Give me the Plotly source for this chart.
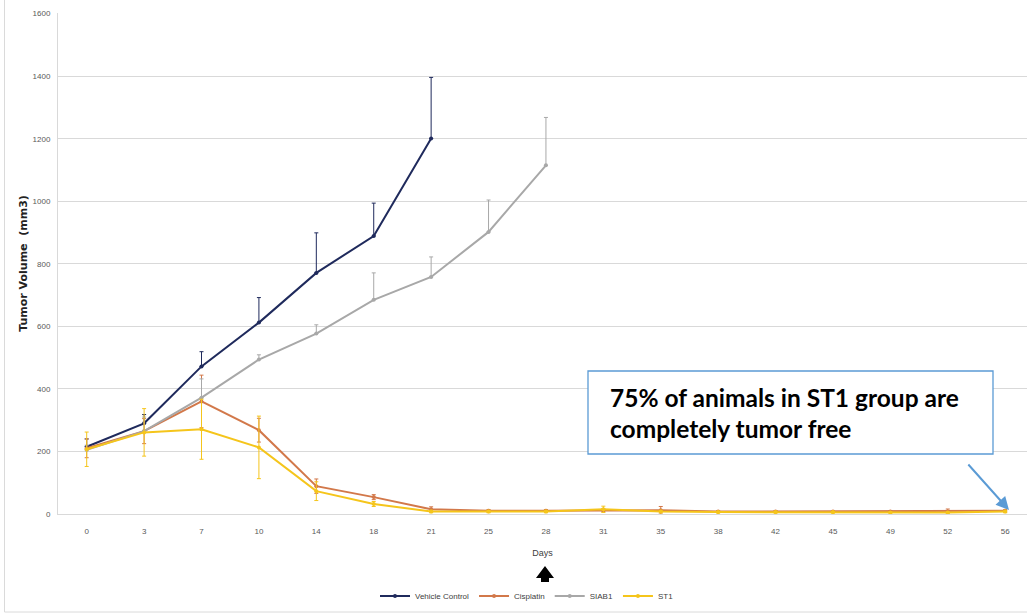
import plotly.graph_objects as go

days = ["0", "3", "7", "10", "14", "18", "21", "25", "28", "31", "35", "38", "42", "45", "49", "52", "56"]

vehicle = [215, 290, 472, 612, 771, 889, 1201]
vehicle_err = [25, 28, 47, 80, 128, 105, 195]

siab1 = [205, 265, 372, 494, 577, 685, 758, 902, 1115]
siab1_err = [15, 45, 60, 15, 28, 86, 64, 102, 153]

cisplatin = [210, 265, 360, 268, 89, 54, 15, 10, 10, 12, 12, 8, 8, 8, 8, 8, 10]
cisplatin_err = [30, 40, 84, 38, 23, 8, 8, 4, 4, 5, 12, 3, 3, 3, 3, 8, 4]

st1 = [207, 261, 271, 213, 73, 32, 8, 8, 8, 15, 8, 6, 6, 6, 5, 5, 8]
st1_err = [55, 76, 96, 100, 30, 8, 4, 4, 4, 10, 4, 3, 3, 3, 2, 2, 4]

y_ticks = [0, 200, 400, 600, 800, 1000, 1200, 1400, 1600]

colors = {"Vehicle Control": "#1F2A5C", "Cisplatin": "#D2784A",
          "SIAB1": "#A8A8A8", "ST1": "#F5C51B"}

fig = go.Figure()


def add(name, y, err, plus_only):
    c = colors[name]
    fig.add_trace(go.Scatter(
        x=days[:len(y)], y=y, name=name, mode="lines+markers",
        line=dict(color=c, width=2), marker=dict(color=c, size=4),
        error_y=dict(type="data", array=err,
                     arrayminus=[0] * len(err) if plus_only else err,
                     symmetric=False, color=c, thickness=1, width=2),
    ))


add("Vehicle Control", vehicle, vehicle_err, True)
add("Cisplatin", cisplatin, cisplatin_err, False)
add("SIAB1", siab1, siab1_err, True)
add("ST1", st1, st1_err, False)

L, T, W, H = 58, 13, 969, 501


def px(xp):
    return (xp - L) / W


def py(yp):
    return (T + H - yp) / H


shapes = [
    # annotation box
    dict(type="rect", xref="paper", yref="paper", x0=px(588), x1=px(993), y0=py(454), y1=py(371),
         line=dict(color="#5B9BD5", width=1.3), fillcolor="white", layer="above"),
    # outer frame lines
    dict(type="line", xref="paper", yref="paper", x0=px(4.5), x1=px(4.5), y0=py(0), y1=py(612),
         line=dict(color="#DADADA", width=1)),
    dict(type="line", xref="paper", yref="paper", x0=px(4.5), x1=px(1027), y0=py(612), y1=py(612),
         line=dict(color="#DADADA", width=1)),
]

# black block arrow below "Days"
pts = [(545, 566), (554, 578), (549, 578), (549, 589), (541, 589), (541, 578), (536, 578)]
path = "M " + " L ".join(f"{px(a):.5f},{py(b):.5f}" for a, b in pts) + " Z"
shapes.append(dict(type="path", xref="paper", yref="paper", path=path,
                   fillcolor="black", line=dict(color="black", width=0)))

annotations = [
    dict(xref="paper", yref="paper", x=px(608), y=py(397), xanchor="left", yanchor="middle",
         text="<b>75% of animals in ST1 group are</b>", showarrow=False,
         font=dict(family="Lato", size=24.5, color="black")),
    dict(xref="paper", yref="paper", x=px(608), y=py(428), xanchor="left", yanchor="middle",
         text="<b>completely tumor free</b>", showarrow=False,
         font=dict(family="Lato", size=24.5, color="black")),
    dict(xref="paper", yref="paper", x=px(1009), y=py(510), text="", showarrow=True,
         ax=-42, ay=-47, arrowcolor="#5B9BD5", arrowwidth=2, arrowhead=2, arrowsize=1.3),
]

fig.update_layout(
    width=1027, height=614,
    margin=dict(l=L, r=0, t=T, b=614 - T - H, pad=0, autoexpand=False),
    paper_bgcolor="white", plot_bgcolor="white",
    font=dict(family="Liberation Sans", size=8, color="#595959"),
    showlegend=True,
    legend=dict(orientation="h", x=px(527), y=py(596), xanchor="center", yanchor="middle",
                font=dict(size=8, color="#404040"), itemwidth=30, tracegroupgap=0),
    shapes=shapes,
    annotations=annotations,
    xaxis=dict(type="category", categoryorder="array", categoryarray=days,
               range=[-0.5, 16.38], showgrid=False, showline=True, linecolor="#D9D9D9",
               ticks="outside", ticklen=9, tickcolor="rgba(0,0,0,0)", automargin=False,
               tickfont=dict(size=8, color="#595959"),
               title=dict(text="Days", font=dict(size=9, color="#404040"), standoff=15)),
    yaxis=dict(range=[0, 1602], tickvals=y_ticks, showgrid=True, gridcolor="#D9D9D9",
               gridwidth=1, showline=True, linecolor="#D9D9D9", zeroline=False,
               ticks="outside", ticklen=5, tickcolor="rgba(0,0,0,0)", automargin=False,
               tickfont=dict(size=8, color="#595959"),
               title=dict(text="<b>Tumor Volume  (mm3)</b>",
                          font=dict(family="DejaVu Sans", size=11, color="#222222"),
                          standoff=2)),
)

fig.write_html("out.html", config={"displayModeBar": False},
               post_script="document.body.style.margin='0';")
